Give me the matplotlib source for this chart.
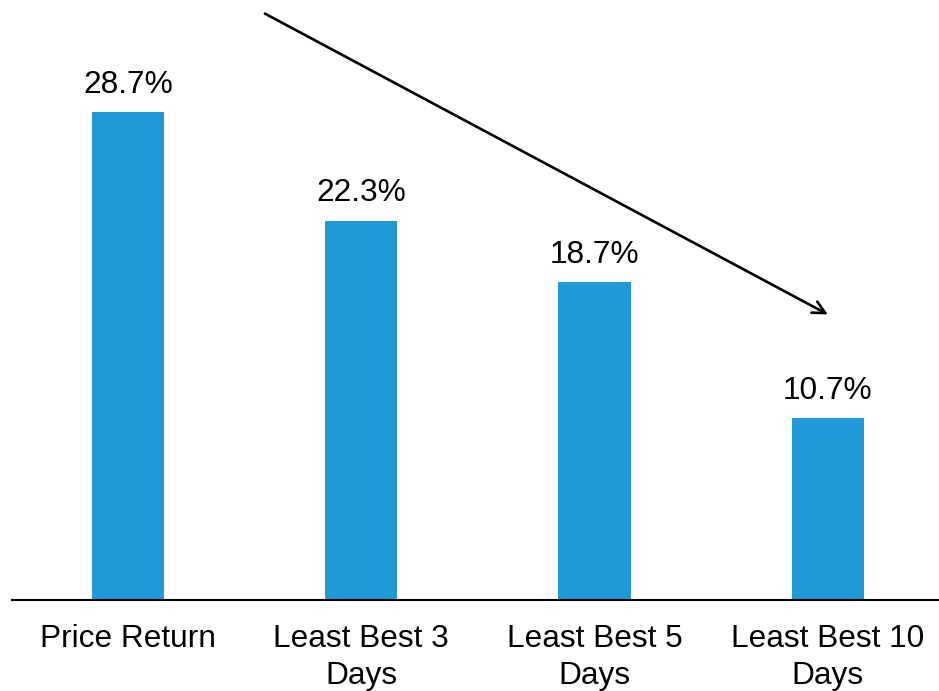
import matplotlib
matplotlib.use("Agg")
import matplotlib.pyplot as plt

categories = ["Price Return", "Least Best 3\nDays", "Least Best 5\nDays", "Least Best 10\nDays"]
returns = [28.7, 22.3, 18.7, 10.7]
labels = ["28.7%", "22.3%", "18.7%", "10.7%"]

plt.rcParams['font.family'] = ['Liberation Sans', 'DejaVu Sans']
fs = 22.8

fig = plt.figure(figsize=(9.39, 6.91), dpi=100)
# axes spans from x=12px to the right edge, baseline at y=600px
ax = fig.add_axes([12 / 939, 91 / 691, 927 / 939, 600 / 691])

x = range(len(categories))
ax.bar(x, returns, width=0.31, color="#1F9AD6")

for i, (v, lab) in enumerate(zip(returns, labels)):
    ax.annotate(lab, (i, v), xytext=(0, 9), textcoords="offset points",
                ha="center", va="bottom", fontsize=fs)

# downward trend arrow
ax.annotate("", xy=(3.0, 16.8), xytext=(0.587, 34.5),
            arrowprops=dict(arrowstyle="->,head_length=0.9,head_width=0.45",
                            lw=1.9, color="black", shrinkA=0, shrinkB=0),
            annotation_clip=False)

ax.set_xlim(-0.497, 3.476)
ax.set_ylim(0, 35.3)
ax.set_xticks(list(x))
ax.set_xticklabels(categories, fontsize=fs, linespacing=1.33)
ax.tick_params(axis="x", length=0, pad=17)
ax.set_yticks([])
for s in ["top", "right", "left"]:
    ax.spines[s].set_visible(False)
ax.spines["bottom"].set_linewidth(1.5)

fig.savefig("out.png", dpi=100)
